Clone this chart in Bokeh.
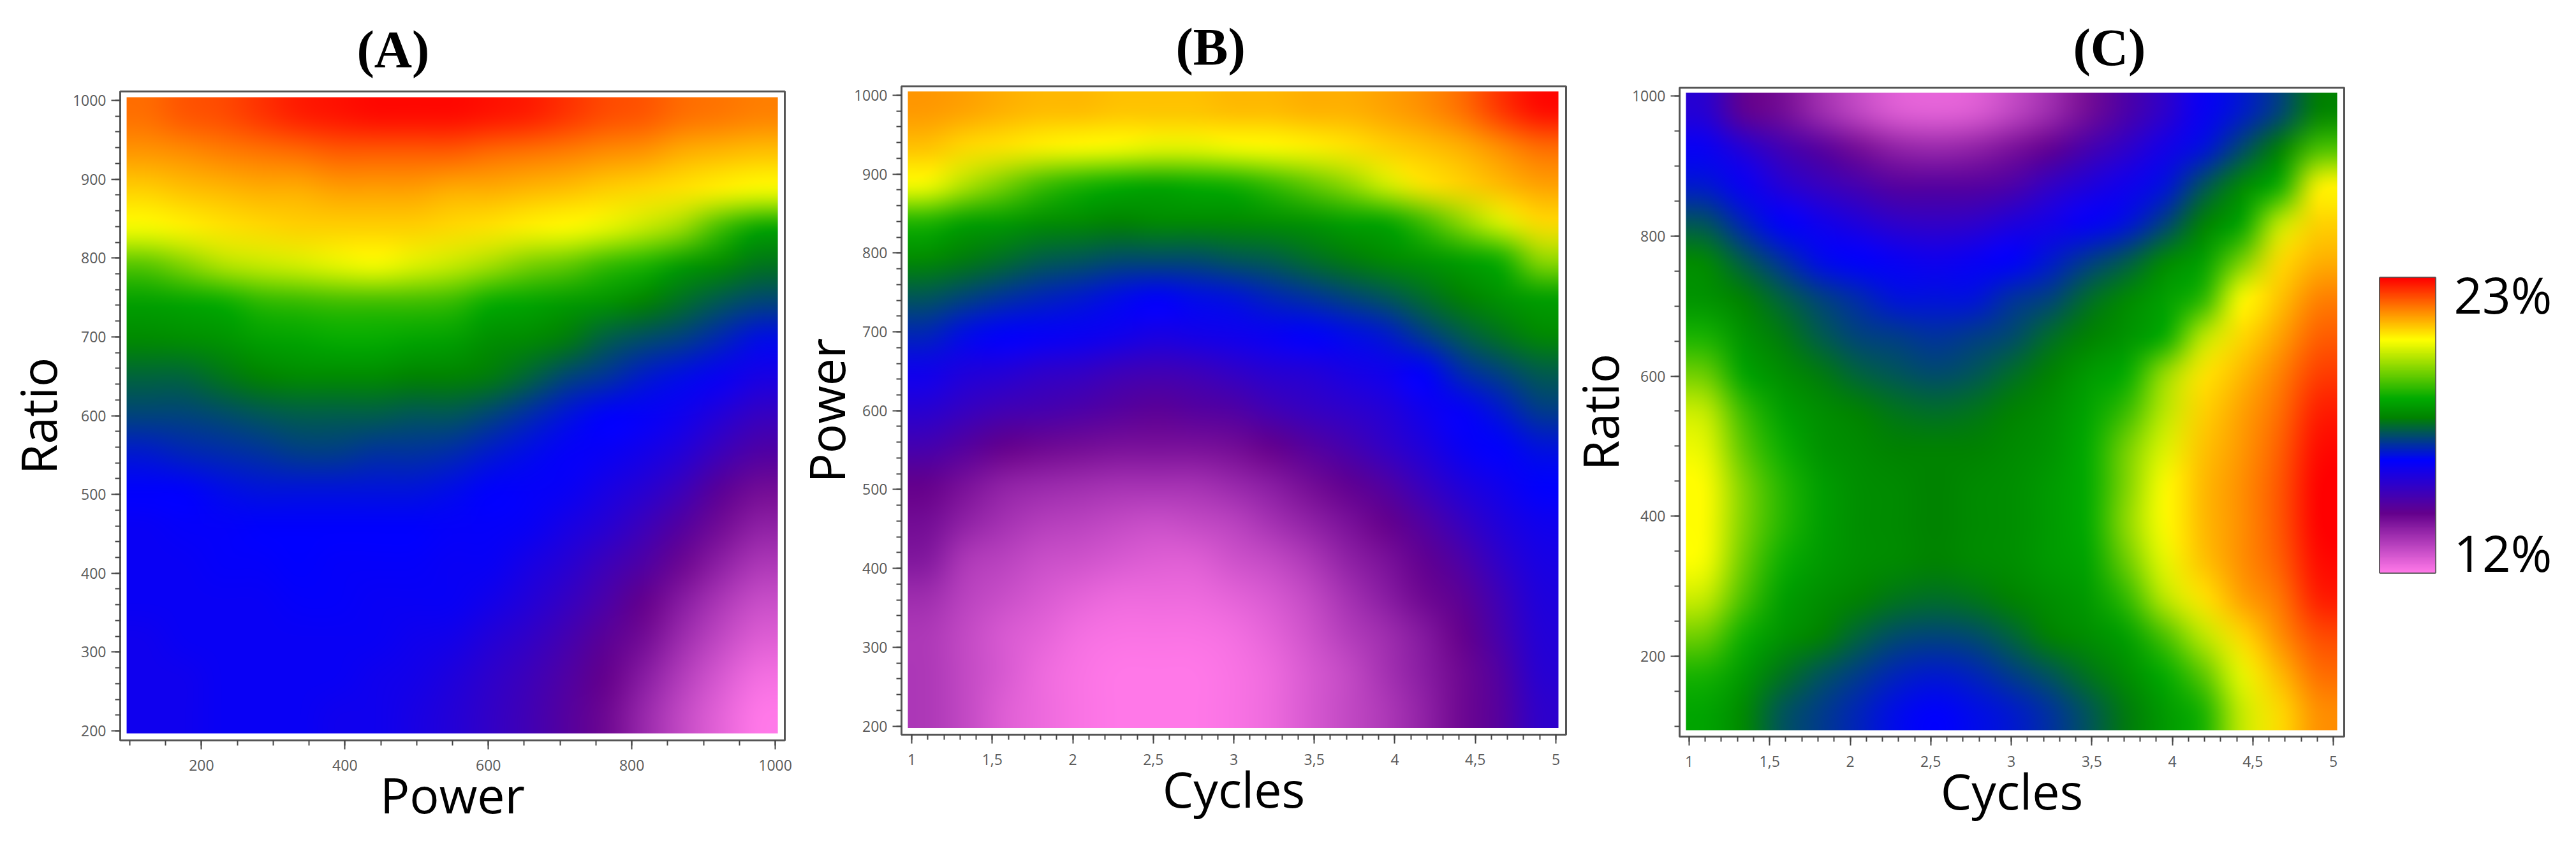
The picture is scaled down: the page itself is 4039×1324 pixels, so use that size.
import numpy as np
from bokeh.embed import file_html
from bokeh.layouts import row
from bokeh.models import FixedTicker, LinearAxis, LinearColorMapper
from bokeh.plotting import figure
from bokeh.resources import INLINE

# Percent values; rows listed top to bottom, columns left to right.
panel_a = [
 [22.0,22.2,22.3,22.5,22.7,22.8,22.9,22.9,22.9,22.8,22.7,22.5,22.3,22.2,22.0,21.9,21.8],
 [21.6,21.7,21.8,21.9,22.0,22.1,22.1,22.1,22.1,22.0,21.9,21.8,21.7,21.6,21.4,21.3,21.2],
 [21.1,21.2,21.3,21.4,21.4,21.5,21.5,21.5,21.4,21.4,21.3,21.2,21.1,21.0,20.9,20.8,20.6],
 [20.6,20.8,20.9,21.0,21.1,21.1,21.1,21.1,21.0,20.9,20.8,20.7,20.5,20.2,19.8,19.0,18.4],
 [19.2,19.6,20.0,20.2,20.3,20.5,20.6,20.4,20.2,19.9,19.5,19.3,18.9,18.7,18.2,17.9,17.6],
 [18.3,18.4,18.5,18.8,18.9,19.0,19.0,19.0,18.9,18.5,18.4,18.2,18.1,17.8,17.5,17.2,17.0],
 [17.9,18.0,18.1,18.3,18.4,18.5,18.5,18.4,18.3,18.0,17.9,17.7,17.3,17.1,16.9,16.6,16.3],
 [17.4,17.4,17.6,17.8,17.9,17.9,17.9,17.8,17.8,17.7,17.4,17.0,16.8,16.5,16.3,16.0,15.7],
 [17.0,17.0,17.1,17.2,17.3,17.3,17.3,17.2,17.2,17.0,16.7,16.4,16.2,16.1,15.9,15.5,15.1],
 [16.5,16.6,16.7,16.8,16.9,16.9,16.8,16.8,16.7,16.5,16.3,16.1,16.0,15.8,15.5,15.0,14.6],
 [16.2,16.2,16.3,16.4,16.4,16.4,16.4,16.4,16.3,16.2,16.1,16.0,15.7,15.4,15.0,14.4,14.0],
 [16.0,16.1,16.1,16.2,16.2,16.2,16.2,16.2,16.1,16.1,16.0,15.7,15.4,15.0,14.5,14.0,13.6],
 [16.0,16.0,16.1,16.1,16.2,16.1,16.1,16.1,16.0,16.0,15.7,15.4,15.0,14.6,14.1,13.6,13.2],
 [16.0,16.0,16.0,16.0,16.1,16.1,16.0,16.0,16.0,15.8,15.5,15.1,14.7,14.2,13.7,13.2,12.8],
 [15.9,16.0,16.0,16.0,16.0,16.0,16.0,15.9,15.8,15.5,15.2,14.8,14.4,14.0,13.4,12.9,12.5],
 [15.9,15.9,16.0,16.0,16.0,16.0,15.9,15.8,15.6,15.3,15.0,14.6,14.2,13.7,13.1,12.6,12.2],
 [15.9,15.9,16.0,16.0,16.0,15.9,15.9,15.7,15.5,15.2,14.9,14.5,14.1,13.5,12.9,12.4,12.0],
]
panel_b = [
 [21.6,21.5,21.4,21.3,21.3,21.2,21.2,21.2,21.3,21.3,21.4,21.4,21.5,21.7,22.0,22.5,22.9],
 [21.2,21.0,20.9,20.8,20.7,20.6,20.5,20.5,20.6,20.7,20.8,20.9,21.1,21.2,21.4,21.7,22.0],
 [20.6,20.0,19.5,19.0,18.7,18.5,18.4,18.5,18.6,18.9,19.3,19.7,20.3,20.9,21.1,21.3,21.5],
 [18.7,18.3,18.2,18.0,17.9,17.8,17.9,17.9,17.9,18.0,18.1,18.3,18.4,19.0,19.7,20.4,21.0],
 [17.9,17.7,17.5,17.3,17.2,17.1,17.1,17.1,17.2,17.3,17.5,17.7,17.9,18.1,18.3,18.6,19.7],
 [17.2,17.0,16.8,16.6,16.5,16.3,16.2,16.3,16.4,16.6,16.8,17.0,17.2,17.5,17.8,18.1,18.3],
 [16.6,16.3,16.2,16.1,16.0,15.9,15.7,15.8,15.9,16.0,16.2,16.3,16.5,16.9,17.3,17.6,17.9],
 [15.9,15.6,15.5,15.3,15.2,15.0,14.9,15.0,15.2,15.4,15.5,15.7,15.9,16.2,16.7,17.0,17.3],
 [15.4,15.1,14.9,14.8,14.7,14.5,14.4,14.5,14.6,14.9,15.1,15.3,15.5,15.9,16.1,16.5,16.9],
 [14.8,14.5,14.2,14.1,14.0,13.9,13.9,13.9,14.0,14.2,14.5,14.8,15.2,15.6,16.0,16.2,16.4],
 [14.2,13.9,13.6,13.5,13.4,13.3,13.3,13.3,13.5,13.7,14.0,14.3,14.6,15.1,15.6,15.9,16.2],
 [14.0,13.6,13.3,13.1,13.0,12.9,12.8,12.9,13.0,13.3,13.6,13.9,14.2,14.6,15.1,15.6,15.9],
 [13.8,13.2,13.0,12.8,12.7,12.6,12.5,12.5,12.7,12.9,13.2,13.6,13.9,14.3,14.7,15.3,15.7],
 [13.4,13.0,12.8,12.6,12.4,12.3,12.3,12.3,12.4,12.6,12.9,13.3,13.7,14.1,14.4,15.0,15.6],
 [13.2,12.9,12.6,12.4,12.2,12.1,12.1,12.1,12.2,12.4,12.7,13.1,13.4,13.8,14.2,14.8,15.5],
 [13.2,12.9,12.6,12.3,12.1,12.0,12.0,12.0,12.1,12.3,12.6,12.9,13.3,13.7,14.1,14.6,15.4],
 [13.2,12.9,12.5,12.3,12.1,12.0,12.0,12.0,12.1,12.3,12.6,12.9,13.2,13.6,14.1,14.5,15.3],
]
panel_c = [
 [15.4,14.3,14.0,13.4,12.9,12.5,12.4,12.5,12.9,13.4,14.0,14.7,15.3,16.0,16.5,17.0,17.8],
 [16.0,15.5,14.9,14.5,14.0,13.6,13.5,13.6,13.9,14.3,14.8,15.3,15.8,16.4,17.1,17.8,19.1],
 [16.5,16.0,15.5,15.1,14.8,14.5,14.5,14.5,14.7,15.2,15.6,15.9,16.4,17.2,17.9,18.6,20.8],
 [17.2,16.6,16.2,15.9,15.6,15.3,15.2,15.3,15.6,15.8,16.1,16.4,17.0,17.8,18.4,20.2,21.1],
 [17.9,17.3,16.8,16.3,16.2,16.0,15.9,16.0,16.2,16.5,16.9,17.3,17.9,18.3,19.5,21.0,21.4],
 [18.1,17.8,17.4,17.0,16.7,16.4,16.4,16.4,16.8,17.0,17.5,17.9,18.3,18.8,20.7,21.2,21.8],
 [18.7,18.1,17.7,17.3,17.0,16.9,16.8,16.9,17.1,17.5,17.8,18.1,18.5,20.1,21.0,21.5,22.1],
 [19.4,18.4,18.0,17.7,17.4,17.2,17.1,17.2,17.5,17.8,18.2,18.5,19.8,20.9,21.3,21.8,22.4],
 [20.2,19.0,18.3,18.0,17.8,17.6,17.5,17.6,17.8,18.0,18.4,19.0,20.1,21.1,21.5,22.0,22.7],
 [20.5,19.3,18.6,18.1,17.9,17.8,17.8,17.8,17.9,18.1,18.5,19.5,20.4,21.2,21.6,22.1,22.9],
 [20.7,19.6,18.8,18.3,18.0,17.9,17.8,17.9,18.0,18.2,18.5,19.6,20.7,21.3,21.7,22.2,23.0],
 [20.7,19.6,18.8,18.3,18.0,17.9,17.8,17.9,18.0,18.2,18.5,19.7,20.7,21.3,21.7,22.2,23.0],
 [20.6,19.4,18.6,18.2,18.0,17.9,17.8,17.9,18.0,18.2,18.4,19.4,20.5,21.2,21.7,22.1,22.9],
 [20.2,19.1,18.3,18.0,17.8,17.6,17.5,17.6,17.8,18.0,18.2,18.9,20.1,20.9,21.5,21.9,22.7],
 [19.4,18.6,18.1,17.8,17.4,17.1,17.0,17.1,17.4,17.8,18.0,18.3,19.1,20.1,21.0,21.7,22.3],
 [18.7,18.2,17.6,17.2,16.9,16.6,16.5,16.6,16.9,17.2,17.6,18.0,18.5,19.3,20.5,21.3,22.0],
 [18.4,17.9,17.2,16.9,16.6,16.3,16.2,16.3,16.5,16.8,17.2,17.7,18.2,18.7,20.2,21.0,21.7],
]

titles = ["(A)", "(B)", "(C)"]
x_titles = ["Power", "Cycles", "Cycles"]
y_titles = ["Ratio", "Power", "Ratio"]
legend_labels = ["23%", "12%"]
value_low, value_high = 12, 23

stops_t = [0.0, 0.20, 0.38, 0.525, 0.59, 0.79, 1.0]
stops_rgb = [(255,120,232), (100,0,140), (0,0,255), (0,130,0), (0,170,0), (255,255,0), (255,0,0)]
tt = np.linspace(0, 1, 256)
palette = ["#%02x%02x%02x" % tuple(int(round(np.interp(t, stops_t, [c[k] for c in stops_rgb]))) for k in range(3)) for t in tt]
mapper = LinearColorMapper(palette=palette, low=value_low, high=value_high)

FRAME = "#555555"
TICK = "#444444"
LABEL = "#5a5a5a"
LABEL_FONT = "Open Sans"


def panel(values, title, xt, yt, xr, yr, img, borders, frame_h, xmaj, xmin, ymaj, ymin, xover, toff, ml, tstand, ystand):
    left, right, top, bottom = borders
    p = figure(frame_width=1042, frame_height=frame_h, x_range=xr, y_range=yr, title=title,
               output_backend="svg", toolbar_location=None, frame_align=False, margin=(8, 0, 0, ml),
               min_border_left=left, min_border_right=right, min_border_top=top, min_border_bottom=bottom,
               x_axis_label=xt, y_axis_label=yt, background_fill_color="white", border_fill_alpha=0)
    p.title.align = "left"
    p.title.offset = toff
    p.title.standoff = tstand
    p.title.vertical_align = "bottom"
    p.title.text_font = "Liberation Serif"
    p.title.text_font_style = "bold"
    p.title.text_font_size = "82px"
    p.title.text_color = "black"
    p.grid.visible = False
    p.outline_line_color = FRAME
    p.outline_line_width = 3
    p.image(image=[np.flipud(np.array(values, dtype=float))], x=img[0], y=img[2],
            dw=img[1] - img[0], dh=img[3] - img[2], color_mapper=mapper)
    p.xaxis.ticker = FixedTicker(ticks=xmaj, minor_ticks=xmin)
    p.yaxis.ticker = FixedTicker(ticks=ymaj, minor_ticks=ymin)
    if xover:
        p.xaxis.major_label_overrides = xover
    for ax in (p.xaxis[0], p.yaxis[0]):
        ax.axis_line_color = None
        ax.major_tick_line_color = TICK
        ax.minor_tick_line_color = TICK
        ax.major_tick_line_width = 2
        ax.minor_tick_line_width = 2
        ax.major_tick_in = 0
        ax.minor_tick_in = 0
        ax.major_tick_out = 14
        ax.minor_tick_out = 8
        ax.major_label_text_font = LABEL_FONT
        ax.major_label_text_font_size = "23px"
        ax.major_label_text_color = LABEL
        ax.axis_label_text_font = "Open Sans"
        ax.axis_label_text_font_style = "normal"
        ax.axis_label_text_font_size = "77px"
        ax.axis_label_text_color = "black"
    p.xaxis.major_label_standoff = 16
    p.yaxis.major_label_standoff = 8
    p.xaxis.axis_label_standoff = -18
    p.yaxis.axis_label_standoff = ystand
    return p


xa_major = [200, 400, 600, 800, 1000]
xa_minor = list(range(100, 1001, 50))
ya_major = list(range(200, 1001, 100))
ya_minor = list(range(200, 1001, 20))
cyc_major = [1, 1.5, 2, 2.5, 3, 3.5, 4, 4.5, 5]
cyc_minor = [1 + 0.1 * i for i in range(41)]
cyc_over = {1: "1", 1.5: "1,5", 2: "2", 2.5: "2,5", 3: "3", 3.5: "3,5", 4: "4", 4.5: "4,5", 5: "5"}
yc_major = [200, 400, 600, 800, 1000]
yc_minor = list(range(100, 1001, 50))

pa = panel(panel_a, titles[0], x_titles[0], y_titles[0], (86.66, 1013.3), (187.9, 1011.3),
           (95.6, 1003.6, 196.8, 1004.0), (174, 26, 135, 147), 1018,
           xa_major, xa_minor, ya_major, ya_minor, None, 371, 3, 41, -1)
pb = panel(panel_b, titles[1], x_titles[1], y_titles[1], (0.9366, 5.0634), (189.1, 1011.3),
           (0.976, 5.016, 197.6, 1004.9), (161, 17, 127, 156), 1017,
           cyc_major, cyc_minor, ya_major, ya_minor, cyc_over, 430, -17, 33, -12)
pc = panel(panel_c, titles[2], x_titles[2], y_titles[2], (0.9406, 5.0673), (85.4, 1011.8),
           (0.980, 5.024, 94.5, 1004.5), (162, 16, 129, 153), 1018,
           cyc_major, cyc_minor, yc_major, yc_minor, cyc_over, 617, -20, 35, -5)

cb = figure(frame_width=87, frame_height=463, x_range=(0, 1), y_range=(value_low, value_high),
            x_axis_location=None, y_axis_location=None, output_backend="svg", toolbar_location=None,
            frame_align=False, margin=(8, 0, 0, 0), border_fill_alpha=0,
            min_border_left=40, min_border_right=213, min_border_top=427, min_border_bottom=410)
cb.grid.visible = False
cb.outline_line_color = FRAME
cb.outline_line_width = 3
cb.image(image=[np.linspace(value_low, value_high, 256).reshape(-1, 1)], x=0, y=value_low, dw=1,
         dh=value_high - value_low, color_mapper=mapper)
legend_ticks = [22.36, 12.74]
legend_axis = LinearAxis(ticker=FixedTicker(ticks=legend_ticks),
                         major_label_overrides=dict(zip(legend_ticks, legend_labels)),
                         axis_line_color=None, major_tick_line_color=None, minor_tick_line_color=None,
                         major_tick_out=0, minor_tick_out=0,
                         major_label_standoff=29, major_label_text_font="Open Sans",
                         major_label_text_font_size="78px", major_label_text_color="black")
cb.add_layout(legend_axis, "right")

layout = row(pa, pb, pc, cb, spacing=0)

# The original raster is smooth: let the browser rescale the coarse cells of each panel
# (the cell values themselves stay those typed above).
cells = len(panel_a)
smooth = """<script>
(function(){var XL='http://www.w3.org/1999/xlink',N=%d;
function fix(e){if(e.dataset.sm)return;var a=e.getAttribute('href')?null:XL;
var u=a?e.getAttributeNS(a,'href'):e.getAttribute('href');if(!u)return;e.dataset.sm='1';
var i=new Image();i.onload=function(){if(i.width<300)return;
var s=document.createElement('canvas');s.width=N;s.height=N;var c=s.getContext('2d');c.imageSmoothingEnabled=false;
c.drawImage(i,0,0,i.width,i.height,0,0,N,N);
var d=document.createElement('canvas');d.width=i.width;d.height=i.height;var g=d.getContext('2d');
g.imageSmoothingEnabled=true;g.imageSmoothingQuality='high';g.drawImage(s,0,0,N,N,0,0,i.width,i.height);
var o=d.toDataURL();if(a)e.setAttributeNS(a,'href',o);else e.setAttribute('href',o);};i.src=u;}
function walk(r){r.querySelectorAll('*').forEach(function(e){
if(e.tagName&&e.tagName.toLowerCase()==='image')fix(e);
if(e.shadowRoot)walk(e.shadowRoot);});}
var n=0,t=setInterval(function(){walk(document);if(++n>100)clearInterval(t);},50);})();
</script>""" % cells
html = file_html(layout, INLINE).replace("</body>", smooth + "</body>")
open("out.html", "w").write(html)
